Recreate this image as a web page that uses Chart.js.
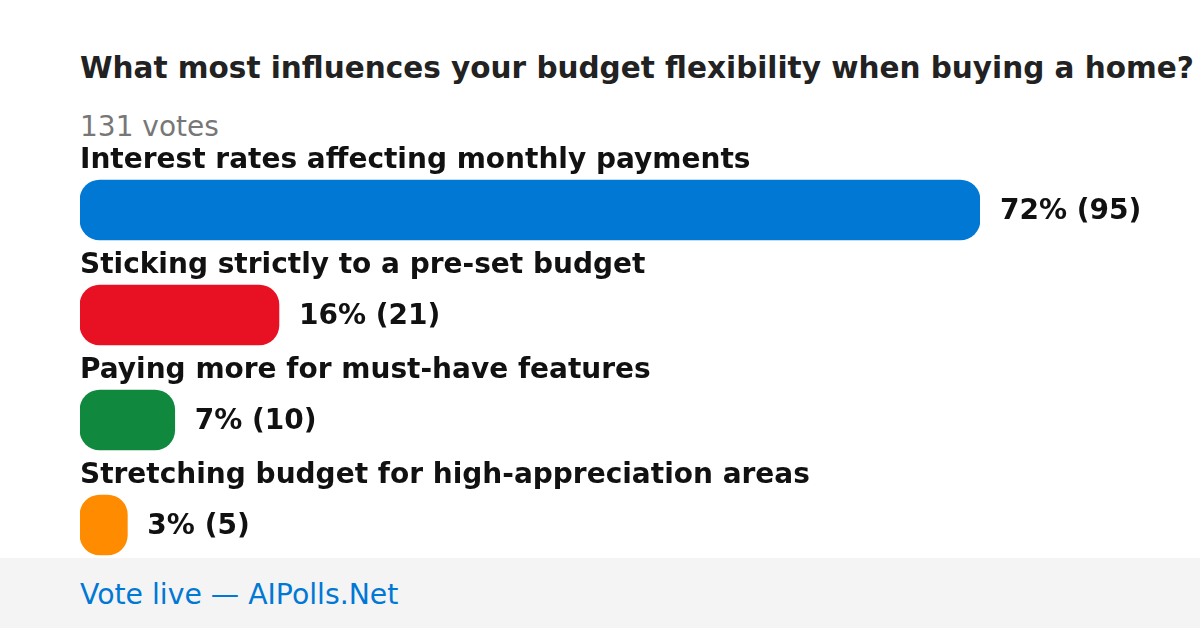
<!DOCTYPE html>
<html lang="en">
<head>
    <meta charset="UTF-8">
    <title>Poll - budget flexibility</title>
    <script src="https://cdn.jsdelivr.net/npm/chart.js"></script>
    <style>
        html, body { margin: 0; padding: 0; background: #fff; }
        body { width: 1200px; height: 628px; position: relative; overflow: hidden; font-family: "DejaVu Sans", sans-serif; }
        .txt { position: absolute; left: 80px; line-height: 1; white-space: nowrap; }
        #title { top: 54px; font-size: 29.5px; font-weight: bold; color: #222; }
        #votes { top: 113px; font-size: 28px; color: #777; }
        #chartBox { position: absolute; left: 0; top: 0; width: 1200px; height: 628px; }
        #footer { position: absolute; left: 0; top: 558px; width: 1200px; height: 70px; background: #f4f4f4; z-index: 2; }
        #footerText { top: 581px; font-size: 28.3px; color: #0078d4; z-index: 3; }
    </style>
</head>
<body>
    <div id="title" class="txt">What most influences your budget flexibility when buying a home?</div>
    <div id="votes" class="txt">131 votes</div>
    <div id="chartBox"><canvas id="pollChart" width="1200" height="628"></canvas></div>
    <div id="footer"></div>
    <div id="footerText" class="txt">Vote live — AIPolls.Net</div>

    <script>
        // poll data
        const options = [
            'Interest rates affecting monthly payments',
            'Sticking strictly to a pre-set budget',
            'Paying more for must-have features',
            'Stretching budget for high-appreciation areas'
        ];
        const votes = [95, 21, 10, 5];
        const percents = [72, 16, 7, 3];
        const colors = ['#0078d4', '#e81123', '#10893e', '#ff8c00'];

        // option text above each bar, result to the right
        const barLabels = {
            id: 'barLabels',
            afterDatasetsDraw(chart) {
                const ctx = chart.ctx;
                const meta = chart.getDatasetMeta(0);
                ctx.save();
                ctx.fillStyle = '#111';
                ctx.textBaseline = 'alphabetic';
                ctx.font = 'bold 28px "DejaVu Sans"';
                ctx.textAlign = 'left';
                meta.data.forEach((bar, i) => {
                    ctx.fillText(options[i], chart.chartArea.left, bar.y - 30 - 12.5);
                    ctx.fillText(percents[i] + '% (' + votes[i] + ')', bar.x + 20, bar.y + 9);
                });
                ctx.restore();
            }
        };

        const chart = new Chart(document.getElementById('pollChart'), {
            type: 'bar',
            data: {
                labels: options,
                datasets: [{
                    data: votes,
                    backgroundColor: colors,
                    borderRadius: 20,
                    borderSkipped: false,
                    barThickness: 60
                }]
            },
            options: {
                indexAxis: 'y',
                responsive: false,
                animation: false,
                layout: { padding: { left: 80, right: 220, top: 157.5, bottom: 50.5 } },
                scales: {
                    x: { display: false, min: 0, max: 95 },
                    y: { display: false }
                },
                plugins: {
                    legend: { display: false },
                    tooltip: { enabled: false }
                }
            },
            plugins: [barLabels]
        });
    </script>
</body>
</html>
